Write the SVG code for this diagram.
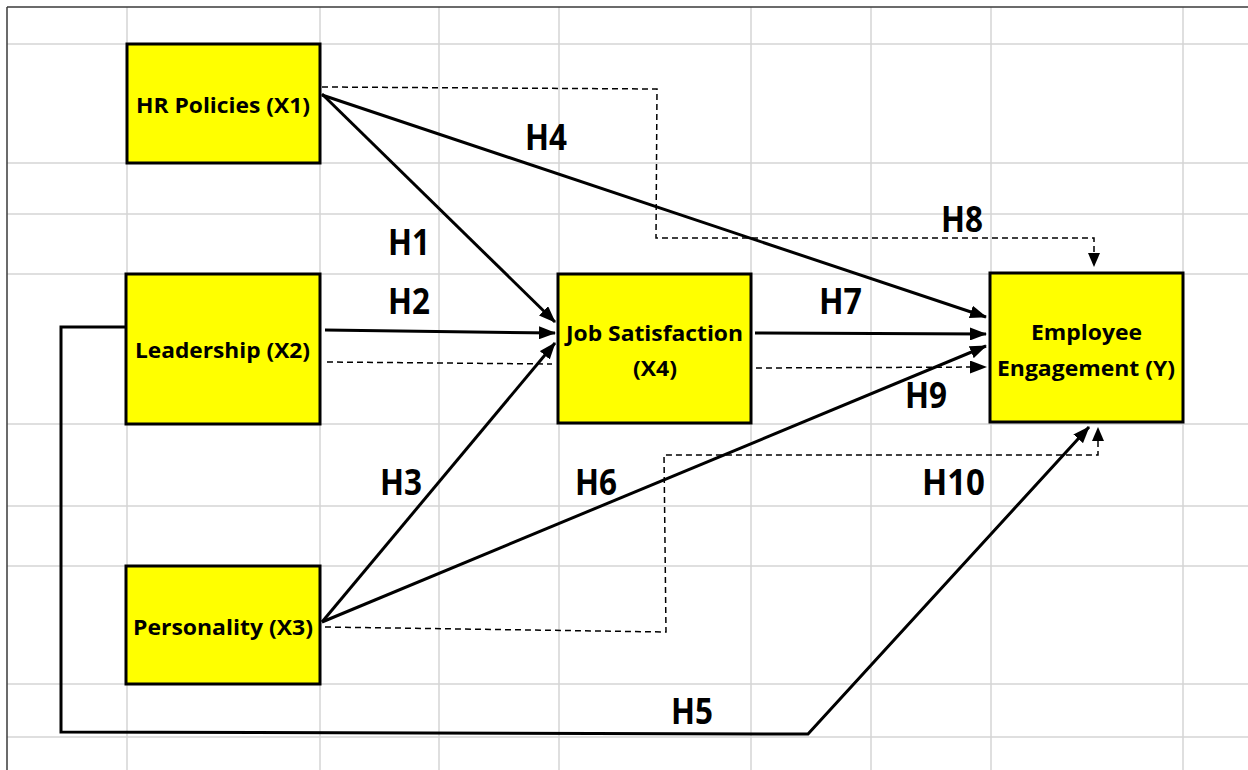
<svg xmlns="http://www.w3.org/2000/svg" width="1248" height="770" viewBox="0 0 1248 770">
<defs>
<style>
.grid line{stroke:#d4d4d4;stroke-width:1.5}
.border{stroke:#3a3a3a;stroke-width:1.5}
.box{fill:#ffff00;stroke:#000;stroke-width:3}
.nt{font-family:"Open Sans",Lato,"Liberation Sans",sans-serif;font-weight:bold;font-size:22px;fill:#000}
.lb{font-family:"Open Sans",Lato,"Liberation Sans",sans-serif;font-weight:bold;font-size:35px;fill:#000}
.solid{fill:none;stroke:#000;stroke-width:3}
.dash{fill:none;stroke:#000;stroke-width:1.5;stroke-dasharray:6 4}
</style>
<marker id="ah" markerUnits="userSpaceOnUse" markerWidth="17" markerHeight="13" refX="16" refY="6.5" orient="auto" viewBox="0 0 17 13">
<path d="M0,0 L17,6.5 L0,13 z" fill="#000"/>
</marker>
<marker id="ahs" markerUnits="userSpaceOnUse" markerWidth="14" markerHeight="12" refX="13" refY="6" orient="auto" viewBox="0 0 14 12">
<path d="M0,0 L14,6 L0,12 z" fill="#000"/>
</marker>
</defs>
<rect width="1248" height="770" fill="#fff"/>
<g class="grid">
<line x1="127" y1="7" x2="127" y2="770"/>
<line x1="320" y1="7" x2="320" y2="770"/>
<line x1="439" y1="7" x2="439" y2="770"/>
<line x1="559" y1="7" x2="559" y2="770"/>
<line x1="751" y1="7" x2="751" y2="770"/>
<line x1="871" y1="7" x2="871" y2="770"/>
<line x1="991" y1="7" x2="991" y2="770"/>
<line x1="1183" y1="7" x2="1183" y2="770"/>
<line x1="7" y1="44" x2="1248" y2="44"/>
<line x1="7" y1="163" x2="1248" y2="163"/>
<line x1="7" y1="214" x2="1248" y2="214"/>
<line x1="7" y1="274" x2="1248" y2="274"/>
<line x1="7" y1="424" x2="1248" y2="424"/>
<line x1="7" y1="506" x2="1248" y2="506"/>
<line x1="7" y1="566" x2="1248" y2="566"/>
<line x1="7" y1="684" x2="1248" y2="684"/>
<line x1="7" y1="737" x2="1248" y2="737"/>
</g>
<line class="border" x1="7" y1="7" x2="1248" y2="7"/>
<line class="border" x1="7" y1="7" x2="7" y2="770"/>

<g id="connectors">
<line class="solid" x1="322" y1="94" x2="555" y2="322" marker-end="url(#ah)"/>
<line class="solid" x1="322" y1="95" x2="986" y2="317" marker-end="url(#ah)"/>
<polyline class="dash" points="322,87 657,89 656,238 1094,238 1094,266" marker-end="url(#ahs)"/>
<line class="solid" x1="325" y1="330" x2="555" y2="333" marker-end="url(#ah)"/>
<line class="dash" x1="327" y1="362" x2="552" y2="364"/>
<line class="solid" x1="322" y1="622" x2="555" y2="343" marker-end="url(#ah)"/>
<line class="solid" x1="322" y1="622" x2="986" y2="346" marker-end="url(#ah)"/>
<polyline class="dash" points="325,627 666,632 664,455 1098,455 1098,428" marker-end="url(#ahs)"/>
<polyline class="solid" points="126,327 61,327 61,732 808,734 1089,427" marker-end="url(#ah)"/>
<line class="solid" x1="755" y1="333" x2="986" y2="334" marker-end="url(#ah)"/>
<line class="dash" x1="756" y1="368" x2="986" y2="367" marker-end="url(#ah)"/>
</g>

<g id="labels">
<text class="lb" x="388" y="255" textLength="42" lengthAdjust="spacingAndGlyphs">H1</text>
<text class="lb" x="388" y="314" textLength="42" lengthAdjust="spacingAndGlyphs">H2</text>
<text class="lb" x="380" y="495" textLength="42" lengthAdjust="spacingAndGlyphs">H3</text>
<text class="lb" x="525" y="150" textLength="42" lengthAdjust="spacingAndGlyphs">H4</text>
<text class="lb" x="671" y="724" textLength="42" lengthAdjust="spacingAndGlyphs">H5</text>
<text class="lb" x="575" y="495" textLength="42" lengthAdjust="spacingAndGlyphs">H6</text>
<text class="lb" x="819" y="314" textLength="43" lengthAdjust="spacingAndGlyphs">H7</text>
<text class="lb" x="941" y="232" textLength="42" lengthAdjust="spacingAndGlyphs">H8</text>
<text class="lb" x="905" y="408" textLength="42" lengthAdjust="spacingAndGlyphs">H9</text>
<text class="lb" x="922" y="495" textLength="63" lengthAdjust="spacingAndGlyphs">H10</text>
</g>

<g id="hr-policies">
<rect class="box" x="127" y="44" width="193" height="119"/>
<text class="nt" x="136" y="113" textLength="174" lengthAdjust="spacingAndGlyphs">HR Policies (X1)</text>
</g>
<g id="leadership">
<rect class="box" x="126" y="274" width="194" height="150"/>
<text class="nt" x="135" y="358" textLength="175" lengthAdjust="spacingAndGlyphs">Leadership (X2)</text>
</g>
<g id="personality">
<rect class="box" x="126" y="566" width="194" height="118"/>
<text class="nt" x="133" y="635" textLength="180" lengthAdjust="spacingAndGlyphs">Personality (X3)</text>
</g>
<g id="job-satisfaction">
<rect class="box" x="558" y="274" width="193" height="149"/>
<text class="nt" x="566" y="341" textLength="177" lengthAdjust="spacingAndGlyphs">Job Satisfaction</text>
<text class="nt" x="633" y="376" textLength="44" lengthAdjust="spacingAndGlyphs">(X4)</text>
</g>
<g id="employee-engagement">
<rect class="box" x="990" y="273" width="193" height="149"/>
<text class="nt" x="1031" y="340" textLength="111" lengthAdjust="spacingAndGlyphs">Employee</text>
<text class="nt" x="997" y="376" textLength="178" lengthAdjust="spacingAndGlyphs">Engagement (Y)</text>
</g>
</svg>
